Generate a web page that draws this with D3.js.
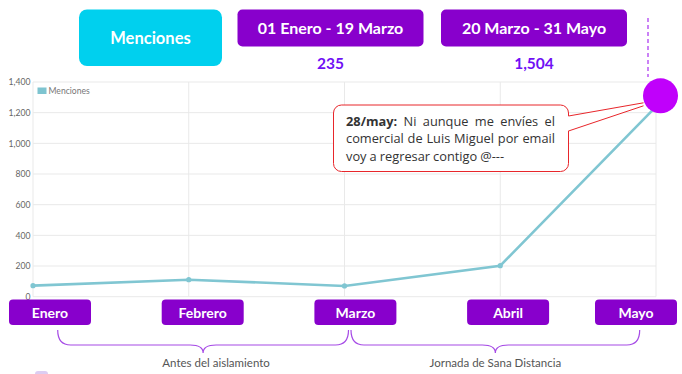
<!DOCTYPE html>
<html>
<head>
<meta charset="utf-8">
<script src="https://cdn.jsdelivr.net/npm/d3@7"></script>
<style>
  body { margin: 0; background: #fff; }
  svg { display: block; font-family: Lato, "Open Sans", sans-serif; }
</style>
</head>
<body>
<svg id="chart" width="682" height="374"></svg>
<script>
var months = ["Enero", "Febrero", "Marzo", "Abril", "Mayo"];
var mentions = [72, 111, 70, 202, 1240];
var yTicks = [0, 200, 400, 600, 800, 1000, 1200, 1400];
var periodLabels = ["01 Enero - 19 Marzo", "20 Marzo - 31 Mayo"];
var periodTotals = ["235", "1,504"];
var phaseLabels = ["Antes del aislamiento", "Jornada de Sana Distancia"];
var noteBold = "28/may:";
var noteText = "Ni aunque me envíes el comercial de Luis Miguel por email voy a regresar contigo @---";

var svg = d3.select("#chart");

var x = d3.scalePoint().domain(months).range([33, 656]);
var y = d3.scaleLinear().domain([0, 1400]).range([296.7, 82]);

// grid
var grid = svg.append("g");
grid.selectAll("line.h").data(yTicks).enter().append("line")
  .attr("x1", 33).attr("x2", 656)
  .attr("y1", d => y(d)).attr("y2", d => y(d))
  .attr("stroke", "#e9e9e9").attr("stroke-width", 1);
grid.selectAll("line.v").data(months).enter().append("line")
  .attr("x1", d => x(d)).attr("x2", d => x(d))
  .attr("y1", y(1400)).attr("y2", y(0))
  .attr("stroke", "#e9e9e9").attr("stroke-width", 1);

var yAxis = d3.axisLeft(y).tickValues(yTicks).tickFormat(d3.format(",")).tickSize(0).tickPadding(2.5);
svg.append("g")
  .attr("transform", "translate(33,0)")
  .call(yAxis)
  .call(g => g.select(".domain").remove())
  .call(g => g.selectAll("text").attr("fill", "#666").attr("font-size", 8.6).attr("font-family", "Lato"));

// legend
svg.append("rect").attr("x", 37.5).attr("y", 87.5).attr("width", 9).attr("height", 6.5).attr("fill", "#7ec4d0");
svg.append("text").attr("x", 48.5).attr("y", 94).attr("font-size", 8.6).attr("fill", "#777").text("Menciones");

// line
var data = months.map((m, i) => ({ m: m, v: mentions[i] }));
var line = d3.line().x(d => x(d.m)).y(d => y(d.v));
svg.append("path").datum(data)
  .attr("d", line).attr("fill", "none")
  .attr("stroke", "#80c6d2").attr("stroke-width", 2.6);
svg.selectAll("circle.pt").data(data).enter().append("circle")
  .attr("cx", d => x(d.m)).attr("cy", d => y(d.v)).attr("r", 2.6)
  .attr("fill", "#80c6d2");

// highlight on Mayo
var hx = x("Mayo") + 4.5, hy = y(1310);
svg.append("line").attr("x1", x("Mayo") - 8).attr("x2", x("Mayo") - 8)
  .attr("y1", 18).attr("y2", 77)
  .attr("stroke", "#a82ff0").attr("stroke-width", 1.2).attr("stroke-dasharray", "4,3");

// callout
var bx = 333.5, by = 105, bw = 235, bh = 66.5;
var callout = svg.append("g");
callout.append("rect").attr("x", bx).attr("y", by).attr("width", bw).attr("height", bh)
  .attr("rx", 8).attr("fill", "#fff").attr("stroke", "#e8262b").attr("stroke-width", 1);
callout.append("path")
  .attr("d", "M" + (bx + bw - 0.5) + "," + (by + 11) + "L" + (hx - 17) + "," + (hy + 7) +
    "L" + (hx - 17) + "," + (hy + 10) + "L" + (bx + bw - 0.5) + "," + (by + 26) + "Z")
  .attr("fill", "#fff").attr("stroke", "none");
callout.append("path")
  .attr("d", "M" + (bx + bw) + "," + (by + 11) + "L" + (hx - 17) + "," + (hy + 7) +
    "M" + (bx + bw) + "," + (by + 26) + "L" + (hx - 17) + "," + (hy + 10))
  .attr("fill", "none").attr("stroke", "#e8262b").attr("stroke-width", 1);

svg.append("circle").attr("cx", hx).attr("cy", hy).attr("r", 17.5).attr("fill", "#c000fb");

// justified callout text
var words = [{ t: noteBold, b: true }].concat(noteText.split(" ").map(t => ({ t: t, b: false })));
var tx0 = 346, tx1 = 555, fs = 12.8, lh = 17.8, ty0 = 125.5;
var tg = callout.append("g").attr("font-family", "'Open Sans', sans-serif").attr("font-size", fs).attr("fill", "#333");
words.forEach(w => {
  w.node = tg.append("text").attr("font-weight", w.b ? 700 : 400).text(w.t);
  w.w = w.node.node().getComputedTextLength();
});
var space = fs * 0.24, lines = [], cur = [], curW = 0;
words.forEach(w => {
  var add = cur.length ? space + w.w : w.w;
  if (curW + add > tx1 - tx0 && cur.length) { lines.push(cur); cur = [w]; curW = w.w; }
  else { cur.push(w); curW += add; }
});
if (cur.length) lines.push(cur);
lines.forEach((ln, li) => {
  var total = d3.sum(ln, w => w.w);
  var gap = (li < lines.length - 1 && ln.length > 1) ? (tx1 - tx0 - total) / (ln.length - 1) : space;
  var cx = tx0;
  ln.forEach(w => {
    w.node.attr("x", cx).attr("y", ty0 + li * lh);
    cx += w.w + gap;
  });
});

// top boxes
svg.append("rect").attr("x", 79).attr("y", 9.5).attr("width", 143).attr("height", 56.5)
  .attr("rx", 8).attr("fill", "#00d0ee");
svg.append("text").attr("x", 150.5).attr("y", 44).attr("text-anchor", "middle")
  .attr("font-size", 16.5).attr("font-weight", 700).attr("fill", "#fff").text("Menciones");

var periodX = [237.5, 441];
periodLabels.forEach((p, i) => {
  svg.append("rect").attr("x", periodX[i]).attr("y", 9.5).attr("width", 186).attr("height", 37)
    .attr("rx", 5).attr("fill", "#8800cc");
  svg.append("text").attr("x", periodX[i] + 93).attr("y", 34).attr("text-anchor", "middle")
    .attr("font-size", 16).attr("font-weight", 700).attr("fill", "#fff").text(p);
  svg.append("text").attr("x", periodX[i] + 93).attr("y", 69).attr("text-anchor", "middle")
    .attr("font-size", 15.5).attr("font-weight", 700).attr("fill", "#7010f5").text(periodTotals[i]);
});

// month label boxes
var xb = d3.scalePoint().domain(months).range([50, 660.8]);
var mb = svg.append("g");
months.forEach(m => {
  var c = Math.min(xb(m), 636);
  mb.append("rect").attr("x", c - 41).attr("y", 299.5).attr("width", 82).attr("height", 25.5)
    .attr("rx", 4).attr("fill", "#8800cc");
  mb.append("text").attr("x", c).attr("y", 317.5).attr("text-anchor", "middle")
    .attr("font-size", 14).attr("font-weight", 700).attr("fill", "#fff").text(m);
});

// braces
var braceX = [[57.7, 348.5], [351, 639.7]];
var y0 = 330, y1 = 345, y2 = 353, r = 13;
phaseLabels.forEach((lab, i) => {
  var a = braceX[i][0], b = braceX[i][1], mid = (a + b) / 2;
  var p = "M" + a + "," + y0 + "Q" + a + "," + y1 + " " + (a + r) + "," + y1 +
    "L" + (mid - r) + "," + y1 + "Q" + mid + "," + y1 + " " + mid + "," + y2 +
    "Q" + mid + "," + y1 + " " + (mid + r) + "," + y1 +
    "L" + (b - r) + "," + y1 + "Q" + b + "," + y1 + " " + b + "," + y0;
  svg.append("path").attr("d", p).attr("fill", "none").attr("stroke", "#a64be6").attr("stroke-width", 1.2);
  svg.append("text").attr("x", mid + (i === 0 ? 13 : 0)).attr("y", 367).attr("text-anchor", "middle")
    .attr("font-size", 11.5).attr("fill", "#555").text(lab);
});

svg.append("rect").attr("x", 35).attr("y", 371).attr("width", 13).attr("height", 8).attr("rx", 3).attr("fill", "#dccdf2");
</script>
</body>
</html>
